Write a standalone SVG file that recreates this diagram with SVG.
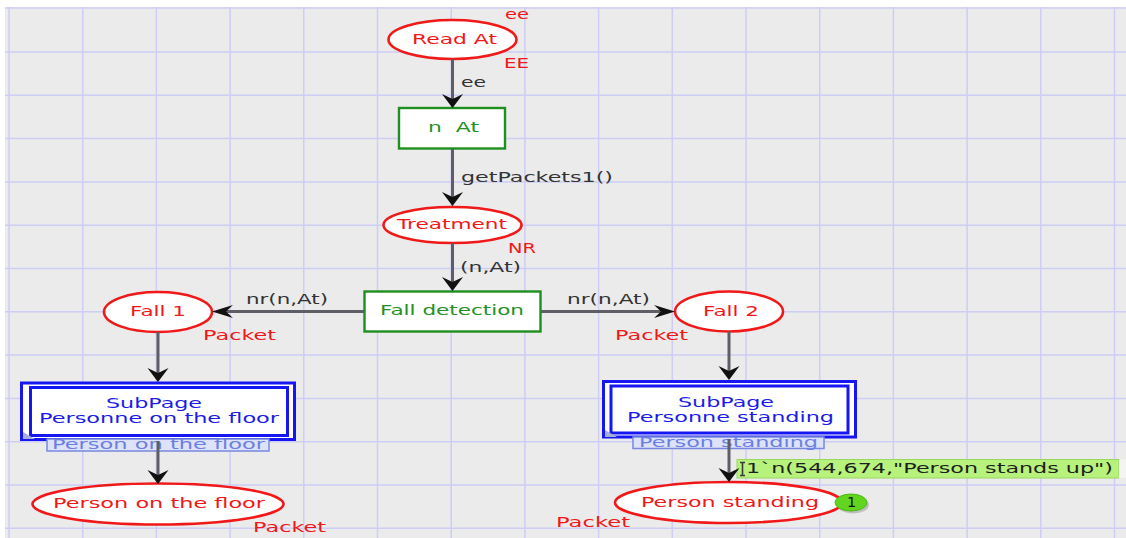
<svg xmlns="http://www.w3.org/2000/svg" width="1126" height="538" viewBox="0 0 1126 538">
  <defs>
    <style>
      text { font-family: "DejaVu Sans", Verdana, sans-serif; font-size: 14.5px; }
      .grid line { stroke: #cdcdf6; stroke-width: 1.5; }
      .place { fill: #ffffff; stroke: #f01818; stroke-width: 2.6; }
      .placeText { fill: #f01818; }
      .inscr { fill: #f01818; }
      .trans { fill: #ffffff; stroke: #1f8f1f; stroke-width: 2.4; }
      .transText { fill: #239123; }
      .subOuter { fill: #ffffff; stroke: #1616f2; stroke-width: 3; }
      .subInner { fill: #ffffff; stroke: #1616f2; stroke-width: 3; }
      .subText { fill: #1c1ce6; }
      .tag { fill: #dde2f8; stroke: #7888e0; stroke-width: 1.5; }
      .tagText { fill: #6b7fe3; }
      .arc { fill: none; stroke: #5e5e66; stroke-width: 3; }
      .arcText { fill: #333333; }
      .token { fill: #b6f27c; stroke: #98d85e; stroke-width: 1; }
      .tokenText { fill: #1e1e1e; }
    </style>
    <!-- barbed heads: vertical arcs are wider than they are long, horizontal ones the opposite -->
    <marker id="headV" viewBox="-20 -15 30 30" markerWidth="30" markerHeight="30" refX="0" refY="0" orient="auto" markerUnits="userSpaceOnUse" overflow="visible">
      <path d="M4,0 L-10,-10.5 L-5,0 L-10,10.5 Z" fill="#111111"/>
    </marker>
    <marker id="headH" viewBox="-25 -10 35 20" markerWidth="35" markerHeight="20" refX="0" refY="0" orient="auto" markerUnits="userSpaceOnUse" overflow="visible">
      <path d="M5,0 L-16,-6.5 L-9,0 L-16,6.5 Z" fill="#111111"/>
    </marker>
  </defs>

  <!-- page -->
  <rect x="0" y="0" width="1126" height="538" fill="#ffffff"/>
  <rect x="5" y="7" width="1121" height="531" fill="#ebebeb"/>

  <g class="grid">
    <line x1="9" y1="7" x2="9" y2="538"/>
    <line x1="82.7" y1="7" x2="82.7" y2="538"/>
    <line x1="156.4" y1="7" x2="156.4" y2="538"/>
    <line x1="230.1" y1="7" x2="230.1" y2="538"/>
    <line x1="303.8" y1="7" x2="303.8" y2="538"/>
    <line x1="377.5" y1="7" x2="377.5" y2="538"/>
    <line x1="451.2" y1="7" x2="451.2" y2="538"/>
    <line x1="524.9" y1="7" x2="524.9" y2="538"/>
    <line x1="598.6" y1="7" x2="598.6" y2="538"/>
    <line x1="672.3" y1="7" x2="672.3" y2="538"/>
    <line x1="746" y1="7" x2="746" y2="538"/>
    <line x1="819.7" y1="7" x2="819.7" y2="538"/>
    <line x1="893.4" y1="7" x2="893.4" y2="538"/>
    <line x1="967.1" y1="7" x2="967.1" y2="538"/>
    <line x1="1040.8" y1="7" x2="1040.8" y2="538"/>
    <line x1="1114.5" y1="7" x2="1114.5" y2="538"/>
    <line x1="5" y1="8" x2="1126" y2="8"/>
    <line x1="5" y1="52" x2="1126" y2="52"/>
    <line x1="5" y1="95.3" x2="1126" y2="95.3"/>
    <line x1="5" y1="138.6" x2="1126" y2="138.6"/>
    <line x1="5" y1="181.9" x2="1126" y2="181.9"/>
    <line x1="5" y1="225.2" x2="1126" y2="225.2"/>
    <line x1="5" y1="268.5" x2="1126" y2="268.5"/>
    <line x1="5" y1="311.8" x2="1126" y2="311.8"/>
    <line x1="5" y1="355.1" x2="1126" y2="355.1"/>
    <line x1="5" y1="398.4" x2="1126" y2="398.4"/>
    <line x1="5" y1="441.7" x2="1126" y2="441.7"/>
    <line x1="5" y1="485" x2="1126" y2="485"/>
    <line x1="5" y1="528.3" x2="1126" y2="528.3"/>
  </g>

  <!-- places -->
  <g id="place-read-at">
    <ellipse class="place" cx="452.5" cy="39.5" rx="64" ry="19.5"/>
    <text class="placeText" x="412" y="44" textLength="85" lengthAdjust="spacingAndGlyphs">Read At</text>
    <text class="inscr" x="505" y="19" textLength="24" lengthAdjust="spacingAndGlyphs">ee</text>
    <text class="inscr" x="504" y="68" textLength="25" lengthAdjust="spacingAndGlyphs">EE</text>
  </g>

  <g id="trans-n-at">
    <rect class="trans" x="399" y="108" width="106" height="40.5"/>
    <text class="transText" x="428" y="132" textLength="51" lengthAdjust="spacingAndGlyphs" xml:space="preserve">n  At</text>
  </g>

  <g id="place-treatment">
    <ellipse class="place" cx="452.5" cy="225" rx="69" ry="18"/>
    <text class="placeText" x="397" y="229" textLength="110" lengthAdjust="spacingAndGlyphs">Treatment</text>
    <text class="inscr" x="508" y="253" textLength="28" lengthAdjust="spacingAndGlyphs">NR</text>
  </g>

  <g id="trans-fall-detection">
    <rect class="trans" x="364.5" y="291.5" width="176" height="40"/>
    <text class="transText" x="380" y="315" textLength="144" lengthAdjust="spacingAndGlyphs">Fall detection</text>
  </g>

  <g id="place-fall-1">
    <ellipse class="place" cx="158" cy="312" rx="54" ry="20"/>
    <text class="placeText" x="130" y="316" textLength="56" lengthAdjust="spacingAndGlyphs">Fall 1</text>
    <text class="inscr" x="203" y="340" textLength="73" lengthAdjust="spacingAndGlyphs">Packet</text>
  </g>

  <g id="place-fall-2">
    <ellipse class="place" cx="729" cy="311.5" rx="54" ry="20"/>
    <text class="placeText" x="703" y="316" textLength="56" lengthAdjust="spacingAndGlyphs">Fall 2</text>
    <text class="inscr" x="615" y="340" textLength="73" lengthAdjust="spacingAndGlyphs">Packet</text>
  </g>

  <!-- substitution transitions -->
  <g id="subst-floor">
    <rect class="subOuter" x="21.5" y="383" width="273" height="56.5"/>
    <rect class="subInner" x="30.5" y="387.5" width="257" height="48"/>
    <polygon points="23,432 23,439 35,439" fill="#a7aed6"/>
    <text class="subText" x="106" y="408" textLength="96" lengthAdjust="spacingAndGlyphs">SubPage</text>
    <text class="subText" x="39" y="423" textLength="240" lengthAdjust="spacingAndGlyphs">Personne on the floor</text>
    <rect class="tag" x="47" y="439" width="222" height="12"/>
    <text class="tagText" x="52" y="449" textLength="213" lengthAdjust="spacingAndGlyphs">Person on the floor</text>
  </g>

  <g id="subst-standing">
    <rect class="subOuter" x="603.5" y="381.5" width="252" height="55.5"/>
    <rect class="subInner" x="611" y="386" width="237" height="47"/>
    <polygon points="605,430 605,437 617,437" fill="#a7aed6"/>
    <text class="subText" x="678" y="407" textLength="96" lengthAdjust="spacingAndGlyphs">SubPage</text>
    <text class="subText" x="627" y="422" textLength="207" lengthAdjust="spacingAndGlyphs">Personne standing</text>
    <rect class="tag" x="633" y="437" width="191" height="11.5"/>
    <text class="tagText" x="639" y="447" textLength="179" lengthAdjust="spacingAndGlyphs">Person standing</text>
  </g>

  <g id="place-person-floor">
    <ellipse class="place" cx="158" cy="504" rx="125.5" ry="20.5"/>
    <text class="placeText" x="53" y="508" textLength="212" lengthAdjust="spacingAndGlyphs">Person on the floor</text>
    <text class="inscr" x="253" y="532" textLength="73" lengthAdjust="spacingAndGlyphs">Packet</text>
  </g>

  <g id="place-person-standing">
    <ellipse class="place" cx="728.5" cy="502.5" rx="113.5" ry="20.5"/>
    <text class="placeText" x="641" y="507" textLength="178" lengthAdjust="spacingAndGlyphs">Person standing</text>
    <text class="inscr" x="556" y="527" textLength="74" lengthAdjust="spacingAndGlyphs">Packet</text>
    <!-- marking: token count and value -->
    <ellipse cx="853" cy="505" rx="16" ry="8.5" fill="#8a8a8a" opacity="0.45"/>
    <ellipse cx="851" cy="502.5" rx="16" ry="8.5" fill="#62d61e" stroke="#4cb814" stroke-width="1"/>
    <text x="847" y="507" font-size="13" fill="#111111">1</text>
    <rect class="token" x="737" y="459.5" width="382" height="18.5"/>
    <rect x="1119" y="459.5" width="7" height="18.5" fill="#f4f4f4"/>
    <path d="M740,462.5 H745 M742.5,462.5 V475.5 M740,475.5 H745" fill="none" stroke="#3a3a3a" stroke-width="1.6"/>
    <text class="tokenText" x="746" y="473" textLength="367" lengthAdjust="spacingAndGlyphs">1`n(544,674,"Person stands up")</text>
  </g>

  <!-- arcs -->
  <g id="arcs">
    <path class="arc" d="M452.5,59 V104" marker-end="url(#headV)"/>
    <text class="arcText" x="461" y="87" textLength="25" lengthAdjust="spacingAndGlyphs">ee</text>

    <path class="arc" d="M452.5,149 V202" marker-end="url(#headV)"/>
    <text class="arcText" x="461" y="182" textLength="152" lengthAdjust="spacingAndGlyphs">getPackets1()</text>

    <path class="arc" d="M452.5,243 V287" marker-end="url(#headV)"/>
    <text class="arcText" x="460" y="272" textLength="61" lengthAdjust="spacingAndGlyphs">(n,At)</text>

    <path class="arc" d="M364,311.5 H217" marker-end="url(#headH)"/>
    <text class="arcText" x="246" y="304" textLength="82" lengthAdjust="spacingAndGlyphs">nr(n,At)</text>

    <path class="arc" d="M541,311.5 H670" marker-end="url(#headH)"/>
    <text class="arcText" x="567" y="304" textLength="83" lengthAdjust="spacingAndGlyphs">nr(n,At)</text>

    <path class="arc" d="M158,332 V378" marker-end="url(#headV)"/>
    <path class="arc" d="M158,441 V480" marker-end="url(#headV)"/>
    <path class="arc" d="M729,331.5 V376" marker-end="url(#headV)"/>
    <path class="arc" d="M729,439 V478" marker-end="url(#headV)"/>
  </g>
</svg>
